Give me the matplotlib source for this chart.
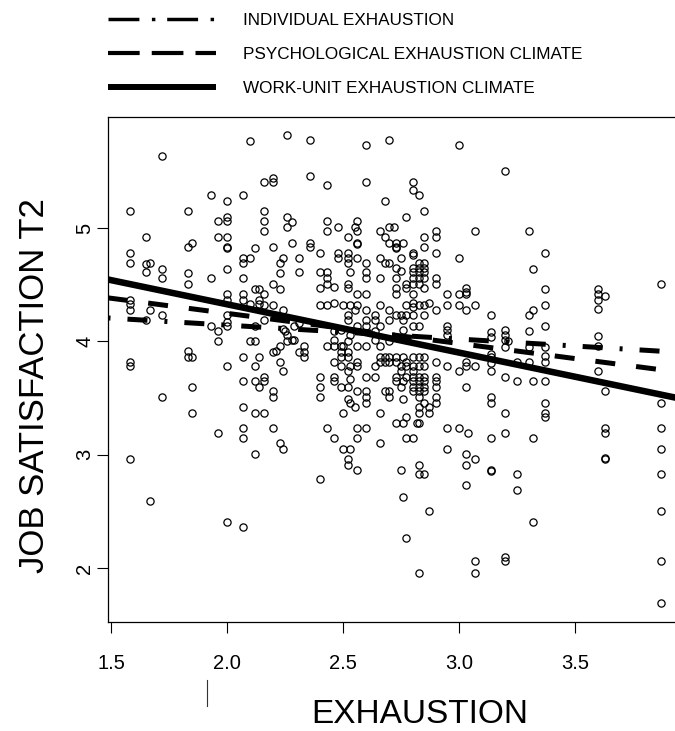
import numpy as np
import matplotlib.pyplot as plt
from matplotlib.lines import Line2D

plt.rcParams['font.family'] = ['Liberation Sans', 'DejaVu Sans']

# --- points, grouped by area of the plot ---
# upper left
ex_a = [2.10, 2.26, 1.72, 2.16, 2.20, 2.20, 1.93, 2.07, 2.00, 1.58,
        1.83, 2.16, 2.26, 2.28, 2.00, 2.00, 1.96, 2.16, 2.26, 2.16,
        1.65, 1.96, 2.00, 1.85, 1.83, 2.28, 2.00, 2.00, 2.20, 2.12,
        1.58, 2.07, 2.10, 2.07, 2.24, 2.23, 1.58, 1.65, 1.67, 1.65,
        1.72, 1.72, 1.83, 1.83, 1.93, 2.00, 2.07, 2.23, 2.20, 2.23,
        2.12, 2.14, 2.16, 2.00, 2.00, 2.07, 2.07, 2.14, 1.58]
js_a = [5.77, 5.82, 5.64, 5.41, 5.44, 5.41, 5.29, 5.29, 5.24, 5.15,
        5.15, 5.15, 5.10, 5.05, 5.10, 5.06, 5.06, 5.06, 5.01, 4.97,
        4.92, 4.92, 4.92, 4.87, 4.83, 4.87, 4.83, 4.82, 4.83, 4.82,
        4.78, 4.74, 4.74, 4.69, 4.74, 4.69, 4.69, 4.68, 4.69, 4.61,
        4.64, 4.56, 4.60, 4.51, 4.56, 4.64, 4.56, 4.60, 4.51, 4.46,
        4.46, 4.46, 4.42, 4.42, 4.37, 4.42, 4.37, 4.37, 4.37]

# upper middle
ex_b = [2.36, 2.60, 2.70, 3.00, 2.36, 2.43, 2.60, 2.80, 2.80, 2.83,
        2.68, 2.85, 2.77, 2.43, 2.43, 2.48, 2.55, 2.56, 2.56, 2.52,
        2.56, 2.56, 2.70, 2.72, 2.66, 2.68, 2.70, 2.73, 2.76, 2.90,
        2.90, 2.85, 2.85, 2.90, 2.80, 2.73, 2.73, 3.07, 2.36, 2.36,
        2.40, 2.31, 2.48, 2.48, 2.52, 2.52, 2.52, 2.56, 2.60, 2.66,
        2.68, 2.70, 2.75, 2.80, 2.83, 2.85, 2.83, 2.85, 2.73, 2.75,
        2.73, 2.80, 2.80, 2.80, 2.80, 2.83, 2.85, 2.83, 2.85, 2.83,
        2.85, 2.31, 2.40, 2.43, 2.43, 2.43, 2.40, 2.46, 2.53, 2.52,
        2.52, 2.60, 2.60, 2.66, 2.73, 2.77, 2.77, 2.56, 2.60, 2.73,
        2.80, 2.90, 2.90, 3.00, 2.95, 3.00, 3.03, 3.03, 3.03]
js_b = [5.78, 5.73, 5.78, 5.73, 5.46, 5.38, 5.41, 5.41, 5.34, 5.29,
        5.24, 5.15, 5.10, 5.06, 4.97, 5.01, 5.01, 5.06, 4.97, 4.92,
        4.87, 4.86, 5.01, 5.01, 4.97, 4.92, 4.87, 4.87, 4.87, 4.97,
        4.92, 4.92, 4.83, 4.78, 4.78, 4.83, 4.82, 4.97, 4.87, 4.83,
        4.78, 4.74, 4.78, 4.74, 4.78, 4.74, 4.69, 4.74, 4.69, 4.74,
        4.69, 4.69, 4.74, 4.76, 4.69, 4.69, 4.65, 4.65, 4.65, 4.62,
        4.56, 4.65, 4.61, 4.56, 4.51, 4.61, 4.61, 4.56, 4.56, 4.51,
        4.47, 4.61, 4.61, 4.61, 4.56, 4.51, 4.47, 4.48, 4.61, 4.51,
        4.47, 4.61, 4.56, 4.56, 4.47, 4.51, 4.47, 4.42, 4.42, 4.42,
        4.42, 4.56, 4.51, 4.74, 4.42, 4.42, 4.47, 4.44, 4.42]

# upper right
ex_c = [3.20, 3.30, 3.37, 3.32, 3.37, 3.60, 3.60, 3.60, 3.63, 3.87]
js_c = [5.50, 4.97, 4.78, 4.64, 4.46, 4.46, 4.42, 4.37, 4.40, 4.51]

# middle left
ex_d = [2.10, 2.14, 2.16, 2.20, 2.24, 2.16, 2.12, 2.00, 2.00, 2.00,
        1.93, 1.96, 1.96, 2.10, 2.12, 2.24, 2.25, 2.26, 2.28, 2.26,
        2.23, 2.20, 2.21, 2.07, 2.14, 2.23, 2.24, 2.00, 2.12, 2.16,
        2.07, 2.12, 2.16, 2.14, 2.20, 2.20, 1.83, 1.83, 1.85, 1.58,
        1.58, 1.85, 1.72, 1.85, 2.07, 2.12, 2.16, 1.96, 2.07, 2.07,
        2.20, 2.23, 2.24, 2.12, 1.58, 1.58, 1.58, 1.67, 1.72, 1.65]
js_d = [4.33, 4.33, 4.32, 4.32, 4.28, 4.19, 4.14, 4.23, 4.17, 4.14,
        4.14, 4.09, 4.00, 4.00, 4.00, 4.11, 4.09, 4.06, 4.01, 4.00,
        3.96, 3.91, 3.92, 3.86, 3.86, 3.82, 3.74, 3.78, 3.78, 3.69,
        3.65, 3.65, 3.65, 3.60, 3.56, 3.51, 3.92, 3.86, 3.86, 3.82,
        3.78, 3.60, 3.51, 3.37, 3.42, 3.37, 3.37, 3.19, 3.24, 3.15,
        3.24, 3.10, 3.05, 3.01, 2.96, 4.33, 4.28, 4.28, 4.23, 4.19]

# middle (dense part)
ex_e = [2.40, 2.43, 2.46, 2.50, 2.53, 2.56, 2.66, 2.77, 2.80, 2.80,
        2.83, 2.85, 2.87, 2.95, 3.00, 3.07, 2.55, 2.60, 2.70, 2.90,
        3.03, 2.52, 2.64, 2.73, 2.75, 2.77, 2.80, 2.85, 2.52, 2.60,
        2.64, 2.70, 2.76, 2.66, 2.80, 2.83, 2.56, 2.60, 2.95, 2.95,
        2.95, 2.29, 2.31, 2.29, 2.33, 2.33, 2.33, 2.31, 2.46, 2.49,
        2.53, 2.64, 2.76, 2.46, 2.43, 2.46, 2.49, 2.50, 2.52, 2.56,
        2.60, 2.64, 2.66, 2.70, 2.49, 2.52, 2.52, 2.49, 2.46, 2.49,
        2.53, 2.56, 2.56, 2.66, 2.68, 2.70, 2.73, 2.76, 2.80, 2.83,
        2.85, 2.90, 2.64, 2.66, 2.68, 2.70, 2.73, 2.75, 2.77, 2.77,
        2.80, 2.83, 2.85, 2.95, 3.00, 3.03, 3.03, 3.07, 2.52, 2.53,
        2.49, 2.52, 2.46, 2.46, 2.40, 2.40, 2.40, 2.60, 2.64, 2.73,
        2.73, 2.75, 2.76, 2.80, 2.80, 2.80, 2.80, 2.80, 2.83, 2.83,
        2.83, 2.83, 2.85, 2.85, 2.85, 2.85, 2.90, 2.90, 2.90, 2.77,
        2.75, 2.56, 2.60, 2.60, 2.60, 2.68, 2.70, 2.70, 2.76, 2.83,
        2.90, 2.90, 2.85, 2.52, 2.53, 2.55, 3.03, 2.50, 2.66, 2.83,
        2.83, 2.87, 2.87, 2.77, 2.73, 2.76, 2.82, 2.83, 2.43, 2.56,
        2.60, 2.95, 3.00, 3.04, 2.46, 2.56, 2.77, 2.80, 2.66, 2.50,
        2.53, 2.95, 3.03, 3.07, 3.03, 2.52, 2.52, 2.56, 2.75, 2.83,
        2.83, 2.85, 2.40]
js_e = [4.32, 4.32, 4.34, 4.32, 4.32, 4.32, 4.32, 4.32, 4.34, 4.30,
        4.32, 4.32, 4.34, 4.32, 4.32, 4.32, 4.28, 4.28, 4.28, 4.28,
        4.28, 4.23, 4.23, 4.23, 4.23, 4.23, 4.23, 4.23, 4.19, 4.19,
        4.19, 4.19, 4.19, 4.14, 4.14, 4.14, 4.14, 4.14, 4.14, 4.10,
        4.06, 4.14, 4.16, 4.01, 3.96, 3.91, 3.86, 3.91, 4.09, 4.10,
        4.06, 4.09, 4.10, 4.01, 3.96, 3.96, 3.96, 3.96, 4.00, 3.96,
        3.96, 4.01, 3.96, 4.00, 3.91, 3.91, 3.86, 3.86, 3.82, 3.78,
        3.78, 3.82, 3.78, 3.86, 3.86, 3.86, 3.86, 3.86, 3.86, 3.86,
        3.86, 3.82, 3.78, 3.82, 3.82, 3.82, 3.82, 3.78, 3.82, 3.78,
        3.78, 3.78, 3.78, 3.78, 3.74, 3.78, 3.82, 3.78, 3.74, 3.67,
        3.60, 3.60, 3.69, 3.65, 3.69, 3.60, 3.51, 3.69, 3.69, 3.69,
        3.65, 3.74, 3.65, 3.74, 3.69, 3.65, 3.60, 3.56, 3.69, 3.65,
        3.60, 3.56, 3.69, 3.65, 3.60, 3.56, 3.69, 3.65, 3.60, 3.69,
        3.60, 3.56, 3.56, 3.51, 3.46, 3.56, 3.56, 3.51, 3.49, 3.51,
        3.51, 3.46, 3.46, 3.49, 3.46, 3.42, 3.60, 3.37, 3.37, 3.42,
        3.37, 3.42, 3.37, 3.33, 3.28, 3.28, 3.28, 3.28, 3.24, 3.24,
        3.24, 3.24, 3.24, 3.19, 3.15, 3.15, 3.15, 3.15, 3.10, 3.05,
        3.05, 3.05, 3.01, 2.96, 2.91, 2.96, 2.91, 2.87, 2.87, 2.91,
        2.83, 2.83, 2.79]

# middle right
ex_f = [3.14, 3.30, 3.32, 3.37, 3.60, 3.14, 3.14, 3.20, 3.20, 3.20,
        3.21, 3.20, 3.30, 3.30, 3.37, 3.14, 3.14, 3.14, 3.14, 3.20,
        3.25, 3.25, 3.30, 3.32, 3.37, 3.37, 3.37, 3.37, 3.60, 3.60,
        3.60, 3.63, 3.87, 3.14, 3.14, 3.20, 3.37, 3.37, 3.37, 3.14,
        3.20, 3.32, 3.63, 3.63, 3.63, 3.63, 3.87, 3.87, 3.14, 3.14,
        3.25, 3.87]
js_f = [4.23, 4.23, 4.28, 4.32, 4.29, 4.08, 4.04, 4.10, 4.06, 4.01,
        4.00, 3.95, 4.09, 3.95, 4.14, 3.89, 3.86, 3.81, 3.74, 3.69,
        3.82, 3.65, 3.82, 3.65, 3.95, 3.87, 3.82, 3.65, 4.05, 3.96,
        3.74, 3.56, 3.46, 3.51, 3.46, 3.37, 3.46, 3.37, 3.33, 3.15,
        3.19, 3.15, 3.24, 3.19, 2.97, 2.96, 3.24, 3.05, 2.87, 2.86,
        2.83, 2.83]

# lower part
ex_g = [1.67, 2.00, 2.07, 3.03, 2.76, 2.87, 2.77, 2.83, 3.07, 3.07,
        3.25, 3.32, 3.20, 3.20, 3.87, 3.87, 3.87]
js_g = [2.59, 2.41, 2.36, 2.73, 2.63, 2.50, 2.27, 1.96, 2.06, 1.96,
        2.69, 2.41, 2.10, 2.06, 2.50, 2.06, 1.69]

exhaustion = np.array(ex_a + ex_b + ex_c + ex_d + ex_e + ex_f + ex_g)
satisfaction = np.array(js_a + js_b + js_c + js_d + js_e + js_f + js_g)

# regression lines: intercept and slope
line_labels = ['INDIVIDUAL EXHAUSTION', 'PSYCHOLOGICAL EXHAUSTION CLIMATE',
               'WORK-UNIT EXHAUSTION CLIMATE']
intercepts = [4.39, 4.78, 5.18]
slopes = [-0.123, -0.266, -0.426]

x_ticks = [1.5, 2.0, 2.5, 3.0, 3.5]
y_ticks = [2, 3, 4, 5]

W, H = 675, 731
fig = plt.figure(figsize=(W / 100, H / 100), dpi=100)
# right edge of the plot box runs past the picture, as in the original
ax = fig.add_axes([107.5 / W, (H - 622) / H, (683 - 107.5) / W, (622 - 117) / H])

ax.plot(exhaustion, satisfaction, 'o', mfc='none', mec='black', ms=5.2, mew=0.9,
        zorder=2)

plot_styles = [dict(lw=3.6, dashes=(0.6, 3.4, 4.0, 3.4)),
               dict(lw=3.6, dashes=(4.0, 4.2)),
               dict(lw=4.7)]
for a, b, st in zip(intercepts, slopes, plot_styles):
    ax.axline((0, a), slope=b, color='black', solid_capstyle='butt',
              dash_capstyle='butt', zorder=3, **st)

ax.set_xlim(1.485, 3.966)
ax.set_ylim(1.525, 5.98)
ax.set_xticks(x_ticks)
ax.set_xticklabels(['%.1f' % v for v in x_ticks])
ax.set_yticks(y_ticks)
ax.set_yticklabels([str(v) for v in y_ticks], rotation=90, va='center')
ax.tick_params(direction='out', length=8, width=0.8, labelsize=14.5, color='black')
ax.tick_params(axis='x', pad=15)
ax.tick_params(axis='y', pad=1.5)
for s in ax.spines.values():
    s.set_linewidth(0.9)

ax.set_xlabel('EXHAUSTION', fontsize=24)
ax.xaxis.set_label_coords(0.543, -0.152)
ax.set_ylabel('JOB SATISFACTION T2', fontsize=25)
ax.yaxis.set_label_coords(-0.099, 0.468)

# legend above the plot
leg_handles = [Line2D([], [], color='black', lw=2.5, dashes=(8.9, 3.6, 1.0, 3.4),
                      dash_capstyle='butt'),
               Line2D([], [], color='black', lw=3.0, dashes=(7.6, 2.9),
                      dash_capstyle='butt'),
               Line2D([], [], color='black', lw=4.3, solid_capstyle='butt')]
fig.legend(leg_handles, line_labels, loc='upper left',
           bbox_to_anchor=(108 / W, 1 - 13 / H), frameon=False, fontsize=12.3,
           handlelength=6.3, handletextpad=1.6, labelspacing=1.1,
           borderpad=0, borderaxespad=0)

# stray mark left of the x label in the original
fig.add_artist(Line2D([207 / W, 207 / W], [1 - 680 / H, 1 - 706 / H],
                      color='#333333', lw=0.8))

fig.savefig('out.png', dpi=100)
